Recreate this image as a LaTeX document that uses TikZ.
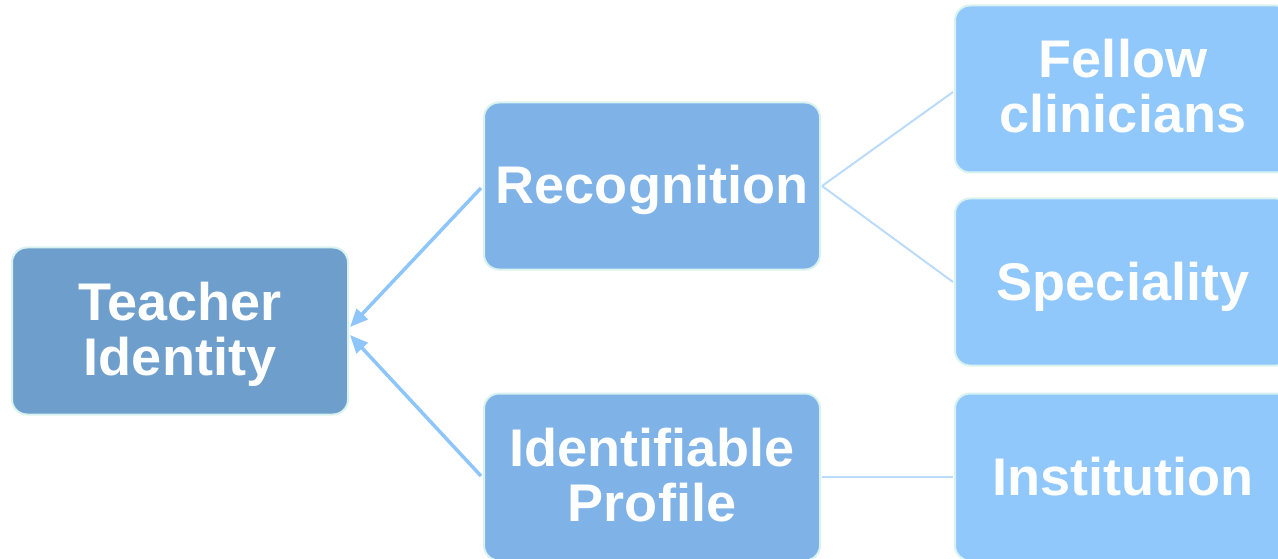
\documentclass[tikz,border=0pt]{standalone}
\usepackage{fontspec}
\setmainfont[FakeStretch=1.02]{Liberation Sans}
\usetikzlibrary{arrows.meta}
\definecolor{cTeach}{HTML}{6D9ECC}
\definecolor{cMid}{HTML}{7FB2E6}
\definecolor{cLeaf}{HTML}{90C8FC}
\definecolor{cBorder}{HTML}{D8F2F0}
\definecolor{cArrow}{HTML}{8EC6FB}
\definecolor{cLine}{HTML}{BBDBFB}
\tikzset{
  box/.style={draw=cBorder, line width=2pt, rounded corners=15pt,
    minimum width=336pt, minimum height=167pt, align=center,
    text=white, font=\bfseries\fontsize{53}{55}\selectfont, inner sep=0pt},
  arr/.style={draw=cArrow, line width=3.5pt, -{Triangle[length=18pt,width=15pt]}},
  thin/.style={draw=cLine, line width=2pt}
}
\newcommand{\oneline}[1]{\raisebox{0pt}[36pt][0pt]{#1}}
\newcommand{\twolines}[2]{\raisebox{0pt}[38pt][0pt]{#1}\\\raisebox{0pt}[38pt][5pt]{#2}}
\begin{document}
\begin{tikzpicture}[x=1pt,y=1pt]
\useasboundingbox (0,0) rectangle (1278,558);
\begin{scope}
\clip (0,0) rectangle (1278,558);
\node[box, fill=cTeach] (ti) at (180,227) {\twolines{Teacher}{Identity}};
\node[box, fill=cMid] (rec) at (652,372) {\oneline{Recognition}};
\node[box, fill=cMid] (idp) at (652,81) {\twolines{Identifiable}{Profile}};
\node[box, fill=cLeaf] (fc) at (1123,469) {\twolines{Fellow}{clinicians}};
\node[box, fill=cLeaf] (sp) at (1123,276) {\oneline{Speciality}};
\node[box, fill=cLeaf] (inst) at (1123,81) {\oneline{Institution}};
\coordinate (tiA) at ([yshift=4pt,xshift=1pt]ti.east);
\coordinate (tiB) at ([yshift=-4pt,xshift=1pt]ti.east);
\draw[arr] ([xshift=-2pt,yshift=-2pt]rec.west) -- (tiA);
\draw[arr] ([xshift=-2pt,yshift=1pt]idp.west) -- (tiB);
\draw[thin] ([xshift=1pt]rec.east) -- ([xshift=-1pt,yshift=-3pt]fc.west);
\draw[thin] ([xshift=1pt]rec.east) -- ([xshift=-1pt]sp.west);
\draw[thin] ([xshift=1pt]idp.east) -- ([xshift=-1pt]inst.west);
\end{scope}
\end{tikzpicture}
\end{document}
